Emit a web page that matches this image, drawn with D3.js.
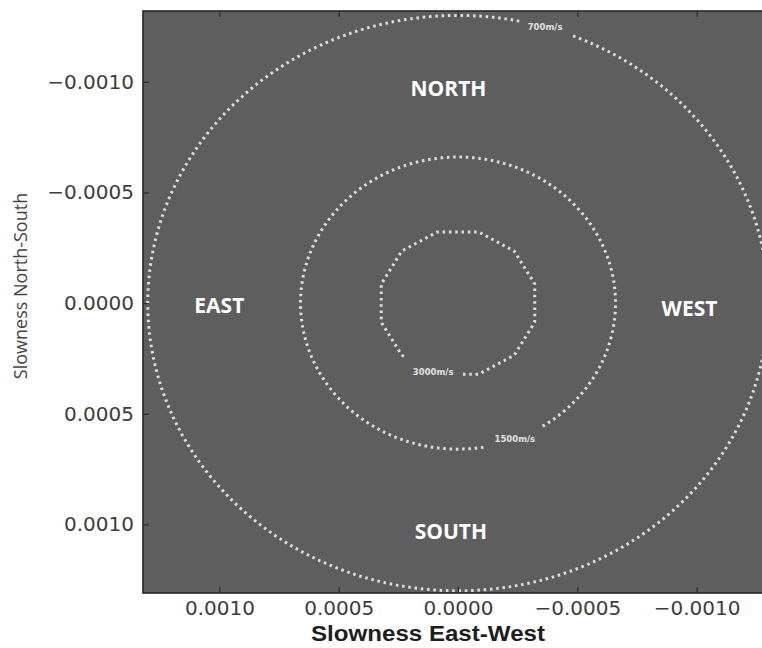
<!DOCTYPE html>
<html>
<head>
<meta charset="utf-8">
<script src="https://cdn.jsdelivr.net/npm/d3@7/dist/d3.min.js"></script>
<style>
  html, body { margin: 0; padding: 0; background: #ffffff; }
  svg { display: block; }
</style>
</head>
<body>
<div id="chart"></div>
<script>
// Slowness plane: rings of constant apparent velocity
const xTicks = [0.0010, 0.0005, 0.0000, -0.0005, -0.0010];
const yTicks = [-0.0010, -0.0005, 0.0000, 0.0005, 0.0010];

const ringLabels   = ["700m/s", "1500m/s", "3000m/s"];
const ringSlowness = [0.0013, 0.00066, 0.000333];
const ringSides    = [0, 0, 12];          // 0 = smooth circle
const ringGapFrom  = [248.8, 99.8, 49.4]; // azimuth (deg) where the label gap opens
const ringGapTo    = [258.6, 122.5, 93.7];

const directionNames = ["NORTH", "SOUTH", "EAST", "WEST"];
const directionEW    = [0.00004, 0.00003, 0.00100, -0.00097];
const directionNS    = [-0.00097, 0.00103, 0.00001, 0.00002];

const W = 762, H = 648;
const plot = { left: 143, top: 11, right: 773, bottom: 593 };

const svg = d3.select("#chart").append("svg")
  .attr("width", W).attr("height", H)
  .attr("viewBox", `0 0 ${W} ${H}`);

const x = d3.scaleLinear().domain([0.00132, -0.00132]).range([plot.left, plot.right]);
const y = d3.scaleLinear().domain([-0.00132, 0.00131]).range([plot.top, plot.bottom]);

// plot background
svg.append("rect")
  .attr("x", plot.left).attr("y", plot.top)
  .attr("width", plot.right - plot.left).attr("height", plot.bottom - plot.top)
  .attr("fill", "#5e5e5e");

// radial distance of a ring at azimuth a (deg); polygons have vertices at 15 + k*360/n
function ringRadius(r, sides, a) {
  if (!sides) return r;
  const step = 360 / sides;
  const offset = 15;
  let rel = ((a - offset) % step + step) % step;   // position within the edge
  const fromMid = (rel - step / 2) * Math.PI / 180;
  return r * Math.cos(Math.PI / sides) / Math.cos(fromMid);
}

function ringPoints(i) {
  const r = ringSlowness[i], s = ringSides[i];
  const start = ringGapTo[i], end = ringGapFrom[i] + 360;
  const pts = [];
  for (let a = start; a < end; a += 0.5) pts.push(a);
  pts.push(end);
  return pts.map(a => {
    const rr = ringRadius(r, s, a), t = a * Math.PI / 180;
    return [rr * Math.cos(t), rr * Math.sin(t)];
  });
}

const line = d3.line().x(d => x(d[0])).y(d => y(d[1]));

const rings = svg.append("g").attr("class", "rings");
ringSlowness.forEach((r, i) => {
  rings.append("path")
    .attr("d", line(ringPoints(i)))
    .attr("fill", "none")
    .attr("stroke", "#dedede")
    .attr("stroke-width", 3)
    .attr("stroke-dasharray", "2.5 3.8");

  // label centred in the gap
  const aMid = (ringGapFrom[i] + ringGapTo[i]) / 2;
  const rr = ringRadius(r, ringSides[i], aMid), t = aMid * Math.PI / 180;
  rings.append("text")
    .attr("x", x(rr * Math.cos(t)))
    .attr("y", y(rr * Math.sin(t)))
    .attr("text-anchor", "middle")
    .attr("dominant-baseline", "central")
    .attr("font-family", "DejaVu Sans, sans-serif")
    .attr("font-weight", "bold")
    .attr("font-size", 8.5)
    .attr("fill", "#e2e2e2")
    .text(ringLabels[i]);
});

// compass labels
directionNames.forEach((name, i) => {
  svg.append("text")
    .attr("x", x(directionEW[i]))
    .attr("y", y(directionNS[i]))
    .attr("text-anchor", "middle")
    .attr("dominant-baseline", "central")
    .attr("font-family", "Open Sans, sans-serif")
    .attr("font-weight", "bold")
    .attr("font-size", 21)
    .attr("fill", "#ffffff")
    .text(name);
});

const fmt = d3.format(".4f");

// left axis (ticks point inward)
const gy = svg.append("g")
  .attr("transform", `translate(${plot.left},0)`)
  .call(d3.axisLeft(y).tickValues(yTicks).tickFormat(fmt).tickSizeInner(-6).tickSizeOuter(0).tickPadding(9));
// right axis ticks
const gyr = svg.append("g")
  .attr("transform", `translate(${plot.right},0)`)
  .call(d3.axisRight(y).tickValues(yTicks).tickFormat("").tickSizeInner(-6).tickSizeOuter(0));
// bottom axis
const gx = svg.append("g")
  .attr("transform", `translate(0,${plot.bottom})`)
  .call(d3.axisBottom(x).tickValues(xTicks).tickFormat(fmt).tickSizeInner(-6).tickSizeOuter(0).tickPadding(8));
// top axis ticks
const gxt = svg.append("g")
  .attr("transform", `translate(0,${plot.top})`)
  .call(d3.axisTop(x).tickValues(xTicks).tickFormat("").tickSizeInner(-6).tickSizeOuter(0));

[gy, gyr, gx, gxt].forEach(g => {
  g.select(".domain").remove();
  g.selectAll(".tick line").attr("stroke", "#2a2a2a").attr("stroke-width", 1.2);
  g.selectAll(".tick text")
    .attr("font-family", "DejaVu Sans, sans-serif")
    .attr("font-size", 20)
    .attr("fill", "#3c3c3c");
});

// frame
svg.append("rect")
  .attr("x", plot.left).attr("y", plot.top)
  .attr("width", plot.right - plot.left).attr("height", plot.bottom - plot.top)
  .attr("fill", "none")
  .attr("stroke", "#262626")
  .attr("stroke-width", 1.6);

// axis titles
svg.append("text")
  .attr("x", 428).attr("y", 633)
  .attr("text-anchor", "middle")
  .attr("dominant-baseline", "central")
  .attr("font-family", "Liberation Sans Narrow, Arial Narrow, Liberation Sans, sans-serif")
  .attr("font-weight", "bold")
  .attr("font-size", 22)
  .attr("textLength", 234)
  .attr("lengthAdjust", "spacingAndGlyphs")
  .attr("fill", "#1e1e1e")
  .text("Slowness East-West");

svg.append("text")
  .attr("transform", "translate(20,286) rotate(-90)")
  .attr("text-anchor", "middle")
  .attr("dominant-baseline", "central")
  .attr("font-family", "Open Sans, sans-serif")
  .attr("font-size", 18)
  .attr("fill", "#444444")
  .text("Slowness North-South");
</script>
</body>
</html>
